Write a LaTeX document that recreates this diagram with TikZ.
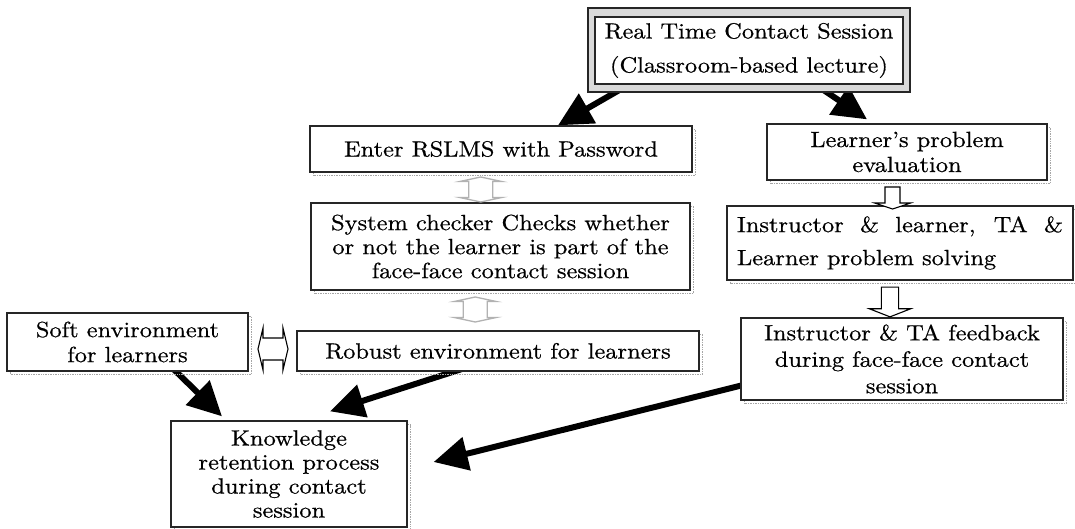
\documentclass[tikz,border=0pt]{standalone}
\usepackage{fontspec}
\newfontfamily\cent{lmroman10-regular.otf}[FakeStretch=1.11,FakeBold=0.6]
\usetikzlibrary{arrows.meta,calc,shadows,backgrounds}
\begin{document}
\begin{tikzpicture}[x=1pt,y=-1pt,
  box/.style={draw=black!85, line width=1.3pt, fill=white, inner sep=0pt, align=center,
    font=\cent\fontsize{22}{24}\selectfont,
    general shadow={shadow xshift=3.5pt, shadow yshift=-3.5pt, draw=gray!70, line width=1.8pt,
      dash pattern=on 1pt off 0.7pt, fill=none}},
  frame/.style={draw=black!85, line width=1.3pt, fill=gray!30, inner sep=0pt},
  inbox/.style={draw=black!85, line width=1.3pt, fill=white, inner sep=0pt, align=center,
    font=\cent\fontsize{22}{34}\selectfont},
  bigarrow/.style={line width=6pt, -{Triangle[length=34pt,width=33pt]}},
  grayarr/.style={draw=gray!60, fill=white, line width=1.3pt},
  blockarr/.style={draw=black, fill=white, line width=1.1pt},
  udarr/.pic={\draw[pic actions] (0,-12.5) -- (21,-8) -- (12,-8) -- (12,8) -- (21,8) -- (0,12.5)
     -- (-21,8) -- (-12,8) -- (-12,-8) -- (-21,-8) -- cycle;},
  hdarr/.pic={\draw[pic actions] (-15,0) -- (-10,-21) -- (-10,-11) -- (10,-11) -- (10,-21) -- (15,0)
     -- (10,21) -- (10,11) -- (-10,11) -- (-10,21) -- cycle;},
  darr/.pic={\draw[pic actions] (-7.5,-11) -- (7.5,-11) -- (7.5,5) -- (18,5) -- (0,11) -- (-18,5)
     -- (-7.5,5) -- cycle;}
]
\useasboundingbox (0,0) rectangle (1075,529);

% top session box (framed)
\node[frame, minimum width=322pt, minimum height=84pt] (top) at (749,50) {};
\node[inbox, minimum width=308pt, minimum height=67pt] (topin) at (749,50.5)
  {Real Time Contact Session\\(Classroom-based lecture)};

% left column
\node[box, minimum width=382pt, minimum height=46pt] (enter) at (501,149) {Enter RSLMS with Password};
\node[box, minimum width=379pt, minimum height=87pt] (syscheck) at (500.5,246.5)
  {System checker Checks whether\\or not the learner is part of the\\face-face contact session};
\node[box, minimum width=241pt, minimum height=58pt, font=\cent\fontsize{22}{25}\selectfont] (soft) at (127.5,342)
  {Soft environment\\for learners};
\node[box, minimum width=402pt, minimum height=40pt] (robust) at (498,351) {Robust environment for learners};
\node[box, minimum width=236pt, minimum height=106pt] (know) at (289,474)
  {Knowledge\\retention process\\during contact\\session};

% right column
\node[box, minimum width=280pt, minimum height=56pt, font=\cent\fontsize{22}{25}\selectfont] (learner) at (907,152)
  {Learner’s problem\\evaluation};
\node[box, minimum width=346pt, minimum height=74pt, text width=326pt, align=justify,
  font=\cent\fontsize{22}{33}\selectfont] (solve) at (900,243)
  {Instructor \& learner, TA \&\linebreak Learner problem solving};
\node[box, minimum width=322pt, minimum height=82pt, font=\cent\fontsize{22}{26.5}\selectfont] (feedback) at (902,359)
  {Instructor \& TA feedback\\during face-face contact\\session};

% block arrows
\pic[grayarr] at ($(enter.south)!0.5!(syscheck.north)+(-20,2)$) {udarr};
\pic[grayarr] at ($(syscheck.south)!0.5!(robust.north)+(-24,-1)$) {udarr};
\pic[blockarr] at ($(soft.east)!0.5!(robust.west)+(0.5,2.5)$) {hdarr};
\pic[blockarr] at ($(learner.south)!0.5!(solve.north)+(-11,5)$) {darr};
\pic[blockarr, xscale=1.15, yscale=1.35] at ($(solve.south)!0.5!(feedback.north)+(-11,3)$) {darr};

% thick arrows
\begin{scope}[on background layer]
\draw[bigarrow] ([xshift=-129pt,yshift=3pt]top.south) -- ([xshift=57pt]enter.north);
\draw[bigarrow] ([xshift=74pt,yshift=3pt]top.south) -- ([xshift=-40pt,yshift=4pt]learner.north);
\draw[bigarrow] ([xshift=45.5pt,yshift=3pt]soft.south) -- ([xshift=-67pt,yshift=4pt]know.north);
\draw[bigarrow] ([xshift=-35pt,yshift=3pt]robust.south) -- ([xshift=41pt,yshift=9pt]know.north);
\draw[bigarrow] ([xshift=3pt,yshift=-26pt]feedback.west) -- ([xshift=26pt,yshift=12pt]know.east);
\end{scope}
\end{tikzpicture}
\end{document}
